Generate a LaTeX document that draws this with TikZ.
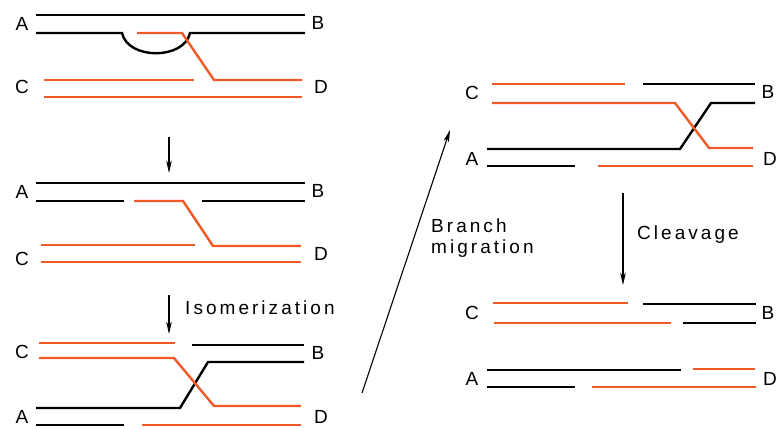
\documentclass[tikz,border=0pt]{standalone}
\usepackage{fontspec}
\setmainfont{Liberation Sans}
\newfontfamily\wordfont{Liberation Sans}[LetterSpace=16]
\usetikzlibrary{arrows.meta}
\definecolor{dnaorange}{RGB}{240,90,40}
\begin{document}
\begin{tikzpicture}[
  x=1pt, y=-1pt,
  strand/.style={line width=2.4pt},
  blk/.style={strand, black},
  org/.style={strand, dnaorange},
  end/.style={font=\fontsize{19}{21}\selectfont, inner sep=0pt},
  word/.style={font=\fontsize{19}{21}\selectfont\wordfont, inner sep=0pt, align=left, anchor=west},
  react/.style={-{Stealth[length=12pt,width=5.5pt,inset=3pt]}, line width=1.1pt}
]
\useasboundingbox (0,0) rectangle (778,428);

% first panel: invading strand
\draw[blk] (36,15) -- (305,15);
\draw[blk] (36,33) -- (122,33) .. controls (128,60) and (184,60) .. (190,33) -- (305,33);
\draw[org] (44,80) -- (194,80);
\draw[org] (44,97) -- (302,97);
\draw[org] (137,33) -- (182,33) -- (214,80) -- (302,80);
\node[end] (a1) at (22,24) {A};
\node[end] (b1) at (318,23) {B};
\node[end] (c1) at (22,87) {C};
\node[end] (d1) at (321,87) {D};

% second panel
\draw[blk] (36,183) -- (305,183);
\draw[blk] (36,201) -- (124,201);
\draw[blk] (202,201) -- (305,201);
\draw[org] (41,245) -- (195,245);
\draw[org] (41,262) -- (301,262);
\draw[org] (134,201) -- (183,201) -- (213,246) -- (301,246);
\node[end] (a2) at (22,192) {A};
\node[end] (b2) at (318,191) {B};
\node[end] (c2) at (22,259) {C};
\node[end] (d2) at (321,254) {D};

% third panel: isomerized junction
\draw[blk] (192,345) -- (304,345);
\draw[blk] (36,408) -- (180,408) -- (208,362) -- (304,362);
\draw[blk] (36,425) -- (124,425);
\draw[org] (39,343) -- (175,343);
\draw[org] (142,425) -- (301,425);
\draw[org] (39,358) -- (174,358) -- (214,406) -- (301,406);
\node[end] (c3) at (22,352) {C};
\node[end] (b3) at (318,353) {B};
\node[end] (a3) at (22,417) {A};
\node[end] (d3) at (321,417) {D};

% fourth panel: after branch migration
\draw[org] (492,84) -- (625,84);
\draw[blk] (643,84) -- (755,84);
\draw[blk] (487,149) -- (680,149) -- (711,103) -- (755,103);
\draw[blk] (487,166) -- (575,166);
\draw[org] (598,166) -- (753,166);
\draw[org] (492,103) -- (675,103) -- (709,148) -- (753,148);
\node[end] (c4) at (472,93) {C};
\node[end] (b4) at (768,92) {B};
\node[end] (a4) at (472,159) {A};
\node[end] (d4) at (770,159) {D};

% fifth panel: cleaved products
\draw[org] (493,303) -- (628,303);
\draw[blk] (643,304) -- (756,304);
\draw[org] (494,323) -- (671,323);
\draw[blk] (683,323) -- (756,323);
\draw[blk] (487,370) -- (681,370);
\draw[org] (693,369) -- (755,369);
\draw[blk] (487,387) -- (575,387);
\draw[org] (592,387) -- (756,387);
\node[end] (c5) at (472,313) {C};
\node[end] (b5) at (768,313) {B};
\node[end] (a5) at (472,379) {A};
\node[end] (d5) at (770,379) {D};

% reaction arrows
\coordinate (r1s) at (169,137);
\coordinate (r1e) at (169,173);
\coordinate (r2s) at (169,295);
\coordinate (r2e) at (169,334);
\coordinate (r3s) at (362,393);
\coordinate (r3e) at (450,130);
\coordinate (r4s) at (623,193);
\coordinate (r4e) at (623,285);
\draw[react] (r1s) -- (r1e);
\draw[react] (r2s) -- (r2e);
\draw[react] (r3s) -- (r3e);
\draw[react] (r4s) -- (r4e);
\node[word] (iso) at (185,308) {Isomerization};
\node[word] (bm) at (431,238) {Branch\\migration};
\node[word] (clv) at (637,235) {Cleavage};
\end{tikzpicture}
\end{document}
